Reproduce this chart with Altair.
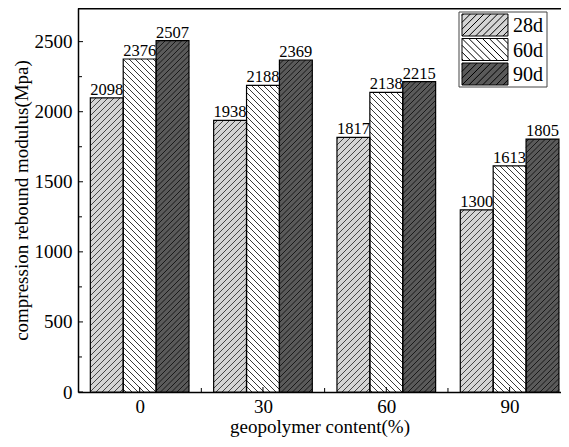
import altair as alt
import pandas as pd
import numpy as np

# ---------------- data ----------------
contents = [0, 30, 60, 90]
ages = ["28d", "60d", "90d"]
modulus_28d = [2098, 1938, 1817, 1300]
modulus_60d = [2376, 2188, 2138, 1613]
modulus_90d = [2507, 2369, 2215, 1805]

y_ticks = [0, 500, 1000, 1500, 2000, 2500]
y_minor = [250, 750, 1250, 1750, 2250]
x_ticks = [0, 30, 60, 90]
x_minor = [15, 45, 75]

# ---------------- layout / style ----------------
W, H = 483, 384
XMIN, XMAX = -15, 102.5
YMIN, YMAX = 0, 2740
BAR_W = 8
offsets = {"28d": -8, "60d": 0, "90d": 8}
fills = ["#d4d4d4", "#ffffff", "#5a5a5a"]
hatch_dir = {"28d": 1, "60d": -1, "90d": 1}
hatch_gap = {"28d": 6.0, "60d": 6.0, "90d": 5.5}
hatch_cols = ["#333333", "#222222", "#111111"]
FONT = "Liberation Serif"

# legend box layout (pixels inside the plot area)
LEG_X0, LEG_X1, LEG_Y0, LEG_Y1 = 381, 469, 4, 79
LEG_SYM_X, LEG_LABEL_X = 395, 435
LEG_ROW_Y = [17, 41.5, 66]

rows = []
for age, vals in zip(ages, [modulus_28d, modulus_60d, modulus_90d]):
    for c, v in zip(contents, vals):
        xc = c + offsets[age]
        rows.append(dict(content=c, age=age, value=v, label=str(v),
                         x0=xc - BAR_W / 2, x1=xc + BAR_W / 2, xc=xc))
bars = pd.DataFrame(rows)

# hatch segments derived from the bar rectangles (45 degrees in pixel space)
sx = W / (XMAX - XMIN)
sy = H / (YMAX - YMIN)
segs = []
for r in rows:
    X0 = (r["x0"] - XMIN) * sx
    X1 = (r["x1"] - XMIN) * sx
    Y0, Y1 = 0.0, r["value"] * sy
    g = hatch_gap[r["age"]]
    if hatch_dir[r["age"]] == 1:  # Y = X + c
        k0, k1 = int(np.ceil((Y0 - X1) / g)), int(np.floor((Y1 - X0) / g))
        for k in range(k0, k1 + 1):
            c = k * g
            xs, xe = max(X0, Y0 - c), min(X1, Y1 - c)
            if xe - xs > 0.4:
                segs.append(dict(age=r["age"], x=xs / sx + XMIN, y=(xs + c) / sy,
                                 x2=xe / sx + XMIN, y2=(xe + c) / sy))
    else:  # Y = c - X
        k0, k1 = int(np.ceil((Y0 + X0) / g)), int(np.floor((Y1 + X1) / g))
        for k in range(k0, k1 + 1):
            c = k * g
            xs, xe = max(X0, c - Y1), min(X1, c - Y0)
            if xe - xs > 0.4:
                segs.append(dict(age=r["age"], x=xs / sx + XMIN, y=(c - xs) / sy,
                                 x2=xe / sx + XMIN, y2=(c - xe) / sy))
hatch = pd.DataFrame(segs)


# legend symbol paths (rectangle + hatch lines); unit = sqrt(size)/2 px
def legend_path(direction, R=3.18, gap=0.62):
    p = f"M-1,-1 L{R},-1 L{R},1 L-1,1 Z "
    k = -3
    while True:
        c = k * gap
        if c > R + 1:
            break
        xa, xb = max(-1.0, c - 1), min(R, c + 1)
        if xb - xa > 0.05:
            if direction == 1:
                p += f"M{xa:.2f},{c - xa:.2f} L{xb:.2f},{c - xb:.2f} "
            else:
                p += f"M{xa:.2f},{xa - c:.2f} L{xb:.2f},{xb - c:.2f} "
        k += 1
    return p.strip()


xscale = alt.Scale(domain=[XMIN, XMAX], nice=False, zero=False)
yscale = alt.Scale(domain=[YMIN, YMAX], nice=False)
xaxis = alt.Axis(values=x_ticks, format="d", tickSize=0, labelPadding=5,
                 labelFont=FONT, labelFontSize=19, labelColor="black",
                 title="geopolymer content(%)", titleFont=FONT, titleFontSize=19,
                 titleFontWeight="normal", titleColor="black", titlePadding=1,
                 grid=False, domainColor="black", domainWidth=1.5)
yaxis = alt.Axis(values=y_ticks, format="d", tickSize=0, labelPadding=6,
                 labelFont=FONT, labelFontSize=19, labelColor="black",
                 title="compression rebound modulus(Mpa)", titleFont=FONT,
                 titleFontSize=19, titleFontWeight="normal", titleColor="black",
                 titlePadding=3, grid=False, domainColor="black", domainWidth=1.5)

base = alt.Chart(bars)

bar_fill = base.mark_rect(strokeWidth=0).encode(
    x=alt.X("x0:Q", scale=xscale, axis=xaxis),
    x2="x1:Q",
    y=alt.Y("value:Q", scale=yscale, axis=yaxis),
    y2=alt.datum(0),
    color=alt.Color("age:N", scale=alt.Scale(domain=ages, range=fills), legend=None),
)

hatch_layer = alt.Chart(hatch).mark_rule(strokeWidth=0.9).encode(
    x=alt.X("x:Q", scale=xscale, axis=xaxis),
    x2="x2:Q",
    y=alt.Y("y:Q", scale=yscale, axis=yaxis),
    y2="y2:Q",
    stroke=alt.Stroke("age:N", scale=alt.Scale(domain=ages, range=hatch_cols), legend=None),
)

bar_outline = base.mark_rect(fillOpacity=0, stroke="black", strokeWidth=1.2).encode(
    x=alt.X("x0:Q", scale=xscale, axis=xaxis),
    x2="x1:Q",
    y=alt.Y("value:Q", scale=yscale, axis=yaxis),
    y2=alt.datum(0),
)

labels = base.mark_text(font=FONT, fontSize=16.5, baseline="alphabetic", dy=-3,
                        color="black").encode(
    x=alt.X("xc:Q", scale=xscale, axis=xaxis),
    y=alt.Y("value:Q", scale=yscale, axis=yaxis),
    text="label:N",
)

ytick_major = alt.Chart(pd.DataFrame({"v": y_ticks})).mark_rule(color="black", strokeWidth=1).encode(
    y=alt.Y("v:Q", scale=yscale, axis=yaxis), x=alt.value(0), x2=alt.value(5))
ytick_minor = alt.Chart(pd.DataFrame({"v": y_minor})).mark_rule(color="black", strokeWidth=1).encode(
    y=alt.Y("v:Q", scale=yscale, axis=yaxis), x=alt.value(0), x2=alt.value(4))
xtick_major = alt.Chart(pd.DataFrame({"v": x_ticks})).mark_rule(color="black", strokeWidth=1).encode(
    x=alt.X("v:Q", scale=xscale, axis=xaxis), y=alt.value(H), y2=alt.value(H - 5))
xtick_minor = alt.Chart(pd.DataFrame({"v": x_minor})).mark_rule(color="black", strokeWidth=1).encode(
    x=alt.X("v:Q", scale=xscale, axis=xaxis), y=alt.value(H), y2=alt.value(H - 4))

one = pd.DataFrame({"a": [0]})
top_line = alt.Chart(one).mark_rule(color="black", strokeWidth=1.5).encode(
    x=alt.value(0), x2=alt.value(W), y=alt.value(0.75))

# ---- legend (drawn as a key box) ----
legend_box = alt.Chart(one).mark_rect(fill="white", stroke="#444444", strokeWidth=1).encode(
    x=alt.value(LEG_X0), x2=alt.value(LEG_X1), y=alt.value(LEG_Y0), y2=alt.value(LEG_Y1))
legend_layers = [legend_box]
for age, col, ry in zip(ages, fills, LEG_ROW_Y):
    legend_layers.append(
        alt.Chart(one).mark_point(shape=legend_path(hatch_dir[age]), size=484, filled=True,
                                  fill=col, stroke="black", strokeWidth=1, opacity=1).encode(
            x=alt.value(LEG_SYM_X), y=alt.value(ry)))
    legend_layers.append(
        alt.Chart(one).mark_text(text=age, font=FONT, fontSize=20, color="black",
                                 align="left", baseline="middle").encode(
            x=alt.value(LEG_LABEL_X), y=alt.value(ry + 1)))

chart = alt.layer(
    bar_fill, hatch_layer, bar_outline, labels,
    ytick_major, ytick_minor, xtick_major, xtick_minor, top_line, *legend_layers
).properties(
    width=W, height=H,
    autosize=alt.AutoSizeParams(type="none"),
    padding={"left": 70, "top": 0, "right": 0, "bottom": 47},
).configure_view(stroke=None)

chart.save("out.html", embed_options={"renderer": "svg", "actions": False})
